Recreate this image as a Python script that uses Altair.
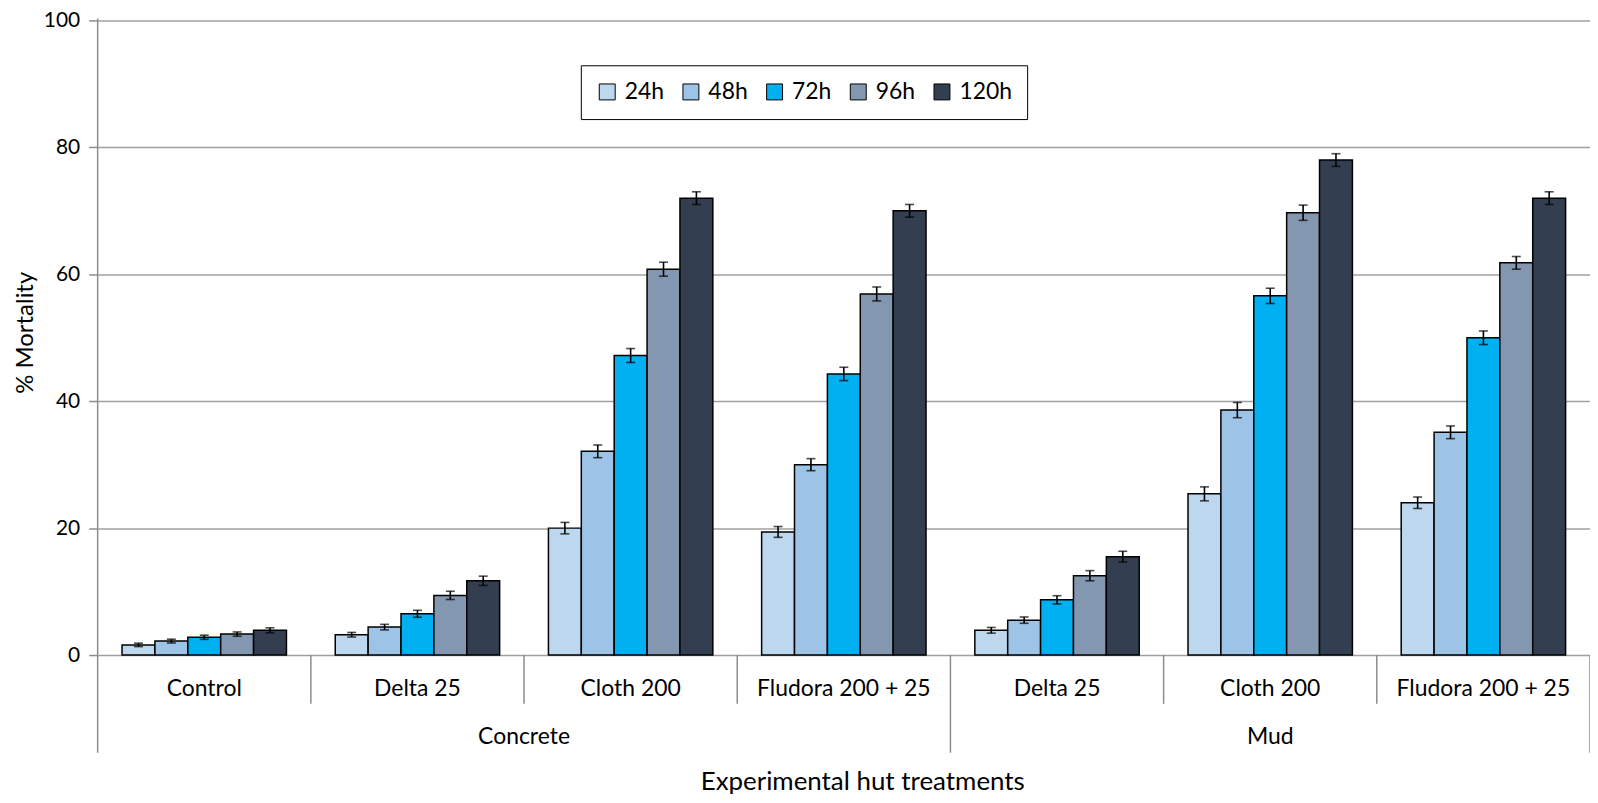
import altair as alt
import pandas as pd

# ---- data ----
treatments = ["Control", "Delta 25", "Cloth 200", "Fludora 200 + 25",
              "Delta 25", "Cloth 200", "Fludora 200 + 25"]
substrates = ["Concrete", "Concrete", "Concrete", "Concrete", "Mud", "Mud", "Mud"]
times = ["24h", "48h", "72h", "96h", "120h"]
colors = ["#BDD7EE", "#9DC3E6", "#00B0F0", "#8497B0", "#333F50"]

mort_24 = [1.6, 3.2, 20.0, 19.4, 3.9, 25.4, 24.0]
mort_48 = [2.2, 4.4, 32.1, 30.0, 5.5, 38.6, 35.1]
mort_72 = [2.8, 6.5, 47.2, 44.3, 8.7, 56.6, 50.0]
mort_96 = [3.3, 9.4, 60.8, 56.9, 12.5, 69.7, 61.8]
mort_120 = [3.9, 11.7, 72.0, 70.0, 15.5, 78.0, 72.0]

err_24 = [0.27, 0.36, 0.9, 0.85, 0.45, 1.1, 0.9]
err_48 = [0.30, 0.44, 1.0, 0.95, 0.5, 1.2, 1.0]
err_72 = [0.33, 0.55, 1.1, 1.05, 0.65, 1.2, 1.07]
err_96 = [0.34, 0.65, 1.1, 1.1, 0.8, 1.2, 1.0]
err_120 = [0.39, 0.73, 1.0, 1.0, 0.85, 1.0, 1.0]

y_ticks = [0, 20, 40, 60, 80, 100]
x_title = "Experimental hut treatments"
y_title = "% Mortality"

# ---- tables ----
keys = [f"{s} | {t}" for s, t in zip(substrates, treatments)]
series = {"24h": (mort_24, err_24), "48h": (mort_48, err_48), "72h": (mort_72, err_72),
          "96h": (mort_96, err_96), "120h": (mort_120, err_120)}
rows = []
for tm in times:
    vals, errs = series[tm]
    for k, v, e in zip(keys, vals, errs):
        rows.append({"key": k, "time": tm, "value": v, "lo": v - e, "hi": v + e})
df = pd.DataFrame(rows)
cat_df = pd.DataFrame({"key": keys, "treatment": treatments, "substrate": substrates})

W, H = 1498, 637
FONT = "Lato"
GRAY = "#8c8c8c"

def xenc(bp=None):
    kw = dict(scale=alt.Scale(domain=keys, paddingInner=0, paddingOuter=0), axis=None)
    if bp is not None:
        kw["bandPosition"] = bp
    return alt.X("key:N", **kw)

xoff = alt.XOffset("time:N", sort=times,
                   scale=alt.Scale(domain=times, paddingInner=0, paddingOuter=0.742))
yscale = alt.Scale(domain=[0, 100], nice=False)

bars = alt.Chart(df).mark_bar(stroke="black", strokeWidth=1.5).encode(
    x=xenc(),
    xOffset=xoff,
    y=alt.Y("value:Q", scale=yscale,
            axis=alt.Axis(values=y_ticks, grid=True, gridColor="#a0a0a0", gridWidth=1.5,
                          domain=False, ticks=True, tickSize=9, tickColor=GRAY, tickWidth=1.5,
                          labelFont=FONT, labelFontSize=21, labelColor="black", labelPadding=9,
                          title=y_title, titleFont=FONT, titleFontSize=24,
                          titleFontWeight="normal", titleColor="black",
                          titleX=-72, titleY=313, titleBaseline="middle", titleAlign="center")),
    color=alt.Color("time:N", sort=times, scale=alt.Scale(domain=times, range=colors),
                    legend=alt.Legend(orient="none", legendX=485, legendY=45,
                                      direction="horizontal", title=None,
                                      symbolType="square", symbolSize=256,
                                      symbolStrokeColor="black", symbolStrokeWidth=1,
                                      labelFont=FONT, labelFontSize=23, labelColor="black",
                                      labelOffset=6, columnPadding=15, padding=15,
                                      strokeColor="black", fillColor="white")),
)

err_rule = alt.Chart(df).mark_rule(color="black", strokeWidth=1.6).encode(
    x=xenc(), xOffset=xoff, y=alt.Y("lo:Q", scale=yscale), y2="hi:Q")
cap_lo = alt.Chart(df).mark_tick(color="black", orient="horizontal", size=9, thickness=1.6).encode(
    x=xenc(), xOffset=xoff, y=alt.Y("lo:Q", scale=yscale))
cap_hi = alt.Chart(df).mark_tick(color="black", orient="horizontal", size=9, thickness=1.6).encode(
    x=xenc(), xOffset=xoff, y=alt.Y("hi:Q", scale=yscale))

# axis line (extends down through the category rows)
yaxis_line = alt.Chart(cat_df.iloc[[0]]).mark_rule(color=GRAY, strokeWidth=1.5).encode(
    x=xenc(0), y=alt.value(-2), y2=alt.value(735))

first_in_group = cat_df["substrate"] != cat_df["substrate"].shift(1)
short_div = alt.Chart(cat_df[~first_in_group]).mark_rule(color=GRAY, strokeWidth=1.5).encode(
    x=xenc(0), y=alt.value(H), y2=alt.value(686))
long_div = alt.Chart(cat_df[first_in_group].iloc[1:]).mark_rule(color=GRAY, strokeWidth=1.5).encode(
    x=xenc(0), y=alt.value(H), y2=alt.value(735))
end_div = alt.Chart(cat_df.iloc[[-1]]).mark_rule(color=GRAY, strokeWidth=1.5).encode(
    x=xenc(1), y=alt.value(H), y2=alt.value(735))

cat_labels = alt.Chart(cat_df).mark_text(font=FONT, fontSize=23, color="black",
                                         baseline="middle").encode(
    x=xenc(), y=alt.value(671), text="treatment:N")

# substrate labels centred under their groups
conc_label = alt.Chart(cat_df.iloc[[2]]).mark_text(font=FONT, fontSize=23, color="black",
                                                   baseline="middle").encode(
    x=xenc(0), y=alt.value(719), text="substrate:N")
mud_label = alt.Chart(cat_df.iloc[[5]]).mark_text(font=FONT, fontSize=23, color="black",
                                                  baseline="middle").encode(
    x=xenc(), y=alt.value(719), text="substrate:N")

xtitle = alt.Chart(pd.DataFrame({"t": [x_title]})).mark_text(
    font=FONT, fontSize=26, color="black", baseline="middle").encode(
    x=alt.value(768), y=alt.value(764), text="t:N")

chart = alt.layer(
    bars, err_rule, cap_lo, cap_hi, yaxis_line, short_div, long_div, end_div,
    cat_labels, conc_label, mud_label, xtitle
).properties(
    width=W, height=H,
    autosize=alt.AutoSizeParams(type="none"),
    padding={"left": 90, "top": 11, "right": 0, "bottom": 141},
    background="white",
).configure_view(stroke=None)

chart.save("out.html", embed_options={"renderer": "svg", "actions": False})
